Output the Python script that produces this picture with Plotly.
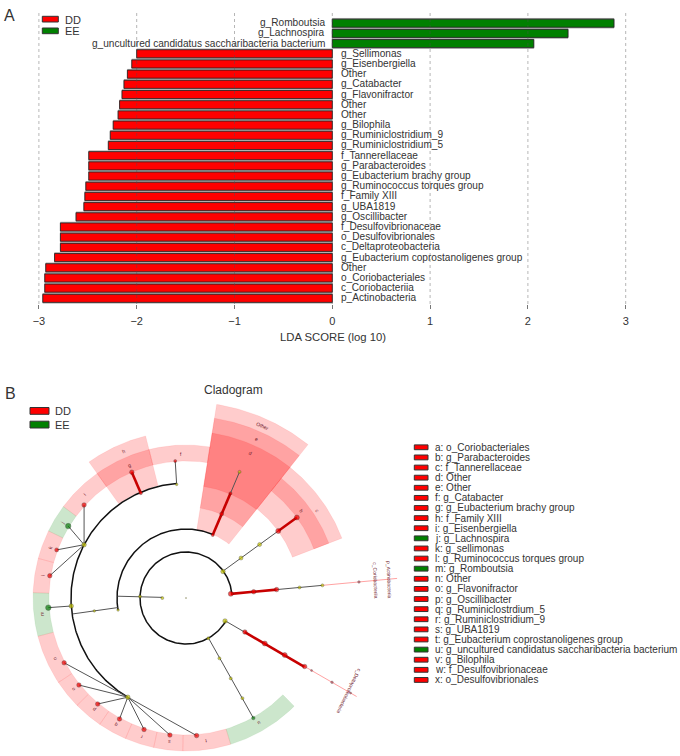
import numpy as np
import plotly.graph_objects as go

W, H = 680, 756
FONT = "Liberation Sans"
TXT = "#333333"
RED, GREEN = "#ff0000", "#008000"

# ---------- Panel A data ----------
lda_labels = ["g_Romboutsia", "g_Lachnospira", "g_uncultured candidatus saccharibacteria bacterium",
              "g_Sellimonas", "g_Eisenbergiella", "Other", "g_Catabacter", "g_Flavonifractor", "Other", "Other",
              "g_Bilophila", "g_Ruminiclostridium_9", "g_Ruminiclostridium_5", "f_Tannerellaceae",
              "g_Parabacteroides", "g_Eubacterium brachy group", "g_Ruminococcus torques group", "f_Family XIII",
              "g_UBA1819", "g_Oscillibacter", "f_Desulfovibrionaceae", "o_Desulfovibrionales",
              "c_Deltaproteobacteria", "g_Eubacterium coprostanoligenes group", "Other", "o_Coriobacteriales",
              "c_Coriobacteriia", "p_Actinobacteria"]
lda_values = [2.88, 2.41, 2.06, -2.00, -2.05, -2.095, -2.13, -2.15, -2.175, -2.19, -2.24, -2.27, -2.29, -2.49,
              -2.49, -2.49, -2.52, -2.53, -2.54, -2.62, -2.78, -2.78, -2.78, -2.84, -2.93, -2.94, -2.94, -2.96]
x_ticks = [-3, -2, -1, 0, 1, 2, 3]

# ---------- Panel B data (angle in degrees, radius) ----------
# wedge: start angle, end angle, inner radius, outer radius, group
wedge_start = [81, 104, 104, 125.5, 143.3, 154, 165, 178, 194.5, 213.5, 224.6, 235.7, 246.7, 257.8, 268.8, -73,
               21, 21, 51.5, 51.5, 51.5]
wedge_end = [104, 125.5, 125.5, 143.3, 154, 165, 178, 194.5, 213.5, 224.6, 235.7, 246.7, 257.8, 268.8, 287, -45,
             51.5, 51.5, 81, 81, 81]
wedge_inner = [137, 137, 116, 137, 137, 137, 137, 137, 137, 137, 137, 137, 137, 137, 137, 137,
               114, 137, 69, 91, 113]
wedge_outer = [153, 153, 167, 153, 153, 153, 153, 153, 153, 153, 153, 153, 153, 153, 153, 153,
               167, 153, 196, 182, 167]
wedge_group = ["DD", "DD", "DD", "DD", "EE", "DD", "DD", "EE", "DD", "DD", "DD", "DD", "DD", "DD", "DD", "EE",
               "DD", "DD", "DD", "DD", "DD"]
# arcs: radius, start angle, end angle
arc_radius = [115, 69, 46]
arc_start = [94.7, 67, 5]
arc_end = [239.6, 190, 330]
# branches: angle0, radius0, angle1, radius1, kind
seg_t0 = [178.5, 188, 184, 94.7, 152.4, 152.4, 152.4, 152.4, 239.6, 239.6, 239.6, 239.6, 239.6, 239.6, 239.6,
          36, 36, 67, 67, 113.3, 5.3, 5.3, 5.3, -30.2, -30.2, -30, -60.7]
seg_r0 = [23.7, 69, 115, 114, 115, 115, 115, 115, 115, 115, 115, 115, 115, 115, 115,
          46, 114, 68.4, 113.8, 114.4, 45, 91, 137, 45, 68, 137, 46]
seg_t1 = [178.5, 188, 184, 94.5, 137.6, 148.6, 159.6, 170.7, 208, 219.1, 230.2, 241.2, 252.3, 263.3, 274.4,
          36, 36, 67, 67, 113.3, 5.3, 5.3, 5.3, -30.2, -30.2, -30, -60.7]
seg_r1 = [68.4, 114.5, 138, 137.4, 138, 138, 138, 138, 138, 138, 138, 138, 138, 138, 138,
          114, 137, 113.8, 137, 137, 91, 137, 212, 68, 137, 197, 137.6]
seg_kind = ["g", "g", "g", "g", "g", "g", "g", "g", "g", "g", "g", "g", "g", "g", "g",
            "g", "r", "r", "g", "r", "r", "g", "p", "g", "r", "p", "g"]
# nodes: angle, radius, size, kind
node_t = [0, 180, 178, 190, 188, 184, 152.4, 239.6, 94.7, 67, 36, 36, 35.6, -30.5, -61, -61, -60.9, -60.6, 5.3, 5.3,
          113.3, 113.3, 94.5, 137.6, 159.6, 170.7, 208, 219.1, 230.2, 241.2, 252.3, 263.3, 274.4,
          36, 36, 67, 67, 67, 5.3, 5.3, 5.3, -30, -30, -30, -30,
          148.6, 184, -60.7, 5.3, -30, -30, -30]
node_r = [0, 23.7, 46, 69, 92.6, 115, 115, 115, 114, 137, 68, 91, 45.5, 45.3, 46, 69, 92, 115, 114, 137,
          114.4, 137, 137.4, 138, 138, 138, 138, 138, 138, 138, 138, 138, 138,
          114, 137, 68.4, 91.3, 113.8, 45, 68, 91, 68, 91, 114, 137,
          138, 138, 137.6, 173.7, 145, 168.6, 190]
node_size = [1, 3, 3, 2.5, 2.5, 4.5, 4.5, 4.5, 2.5, 3, 4, 4, 4.5, 4.5, 3, 3, 3, 3, 3, 3,
             3.5, 4.5, 3, 4.5, 4, 4.5, 4.5, 4.5, 4.5, 4.5, 4.5, 4.5, 4.5,
             5, 5, 3, 4, 3, 5, 4.5, 4.5, 4.5, 5, 5, 4.5,
             5.5, 5.5, 3.5, 2.5, 2, 2.5, 2]
node_kind = ["y"] * 20 + ["r"] * 25 + ["e"] * 3 + ["p"] * 4
# text on the rings: letter, angle, radius
ring_text = ["f", "h", "g", "i", "j", "k", "l", "m", "n", "o", "p", "q", "r", "s", "t", "u", "c", "b", "Other", "e", "d"]
ring_t = [92, 113, 113, 134.2, 148.8, 159.7, 171.2, 186.4, 204.8, 219, 230.4, 241.2, 252.1, 263.4, 277.9, -59.6,
          33.5, 37, 66, 66, 66]
ring_r = [144, 160, 144, 145, 145, 145, 145.5, 145, 145, 145, 145, 145, 145.5, 145.5, 145, 145, 158, 145, 188, 173.7, 159]

legend_labels = ["a: o_Coriobacteriales", "b: g_Parabacteroides", "c: f_Tannerellaceae", "d: Other", "e: Other",
                 "f: g_Catabacter", "g: g_Eubacterium brachy group", "h: f_Family XIII", "i: g_Eisenbergiella",
                 "j: g_Lachnospira", "k: g_sellimonas", "l: g_Ruminococcus torques group", "m: g_Romboutsia",
                 "n: Other", "o: g_Flavonifractor", "p: g_Oscillibacter", "q: g_Ruminiclostrdium_5",
                 "r: g_Ruminiclostridium_9", "s: g_UBA1819", "t: g_Eubacterium coprostanoligenes group",
                 "u: g_uncultured candidatus saccharibacteria bacterium", "v: g_Bilophila",
                 "w: f_Desulfovibrionaceae", "x: o_Desulfovibrionales"]
legend_groups = ["DD"] * 9 + ["EE"] + ["DD"] * 2 + ["EE"] + ["DD"] * 7 + ["EE"] + ["DD"] * 3


def px(x):
    return x / W


def py(y):
    return 1 - y / H


def xy(t, r):
    a = np.radians(t)
    return r * np.cos(a), r * np.sin(a)


fig = go.Figure()

# ---------- Panel A ----------
ypos = list(range(len(lda_labels)))
bar_colors = [GREEN if v > 0 else RED for v in lda_values]
fig.add_trace(go.Bar(x=lda_values, y=ypos, orientation="h", width=0.93, marker=dict(color="#a8a8a8", line=dict(color="#a8a8a8", width=1)),
                     hoverinfo="skip", showlegend=False, xaxis="x", yaxis="y"))
fig.add_trace(go.Bar(x=lda_values, y=ypos, orientation="h", width=0.79, marker=dict(color=bar_colors, line=dict(color="#222222", width=0.8)),
                     text=lda_labels, hovertemplate="%{text}: %{x}<extra></extra>", textposition="none",
                     showlegend=False, xaxis="x", yaxis="y"))

annotations = []
for i, (lab, v) in enumerate(zip(lda_labels, lda_values)):
    annotations.append(dict(x=0, y=i, xref="x", yref="y", text=lab, showarrow=False,
                            xanchor="right" if v > 0 else "left", xshift=-5.5 if v > 0 else 7,
                            yshift=0.5, font=dict(family=FONT, size=10.1, color=TXT)))

shapes = []
for t in x_ticks:
    shapes.append(dict(type="line", xref="x", yref="y domain", x0=t, x1=t, y0=0, y1=1, layer="above",
                       line=dict(color="rgba(80,80,80,0.6)", width=0.7, dash="dot")))


def swatch(x0, x1, y0, y1, group):
    col = RED if group == "DD" else GREEN
    return dict(type="rect", xref="paper", yref="paper", x0=px(x0), x1=px(x1), y0=py(y0), y1=py(y1),
                fillcolor=col, line=dict(color="#333333", width=1))


def paper_text(x, y, s, size, anchor="left"):
    return dict(x=px(x), y=py(y), xref="paper", yref="paper", text=s, showarrow=False, xanchor=anchor,
                yanchor="middle", font=dict(family=FONT, size=size, color=TXT))


shapes += [swatch(42.3, 58.3, 16.3, 22, "DD"), swatch(42.3, 58.3, 28, 33.7, "EE"),
           swatch(30, 49, 407.5, 414.3, "DD"), swatch(30, 49, 421.2, 428, "EE")]
annotations += [paper_text(62.5, 19.5, "DD", 11), paper_text(62.5, 31.5, "EE", 11),
                paper_text(52.5, 411, "DD", 11), paper_text(52.5, 425, "EE", 11),
                paper_text(1.5, 15, "A", 16), paper_text(2.5, 393, "B", 16),
                paper_text(233.5, 390, "Cladogram", 12, "center"),
                paper_text(333, 337, "LDA SCORE (log 10)", 11.3, "center")]

# ---------- Panel B: wedges ----------
for a0, a1, r0, r1, g in zip(wedge_start, wedge_end, wedge_inner, wedge_outer, wedge_group):
    th = np.linspace(a0, a1, 40)
    xo, yo = xy(th, r1)
    xi, yi = xy(th[::-1], r0)
    fx = np.concatenate([xo, xi, xo[:1]])
    fy = np.concatenate([yo, yi, yo[:1]])
    fill = "rgba(255,0,0,0.2)" if g == "DD" else "rgba(0,128,0,0.2)"
    edge = "rgba(255,0,0,0.12)" if g == "DD" else "rgba(0,128,0,0.1)"
    fig.add_trace(go.Scatter(x=fx, y=fy, mode="lines", fill="toself", fillcolor=fill, line=dict(color=edge, width=0.6),
                             hoverinfo="skip", showlegend=False, xaxis="x2", yaxis="y2"))

# arcs
for r, a0, a1 in zip(arc_radius, arc_start, arc_end):
    ax, ay = xy(np.linspace(a0, a1, 200), r)
    fig.add_trace(go.Scatter(x=ax, y=ay, mode="lines", line=dict(color="#111111", width=1.5), hoverinfo="skip",
                             showlegend=False, xaxis="x2", yaxis="y2"))

# branches
seg_style = {"g": dict(color="#555555", width=1.0), "r": dict(color="#c80000", width=2.6),
             "p": dict(color="rgba(255,100,100,0.6)", width=1.0)}
for t0, r0, t1, r1, k in zip(seg_t0, seg_r0, seg_t1, seg_r1, seg_kind):
    x0, y0 = xy(t0, r0)
    x1, y1 = xy(t1, r1)
    fig.add_trace(go.Scatter(x=[x0, x1], y=[y0, y1], mode="lines", line=seg_style[k], hoverinfo="skip",
                             showlegend=False, xaxis="x2", yaxis="y2"))

# nodes
nx, ny = xy(np.array(node_t, float), np.array(node_r, float))
node_color = {"y": "#c4c400", "r": "#ee0000", "e": "#0a7a0a", "p": "rgba(170,50,70,0.8)"}
fig.add_trace(go.Scatter(x=nx, y=ny, mode="markers", hoverinfo="skip", showlegend=False, xaxis="x2", yaxis="y2",
                         marker=dict(size=node_size, color=[node_color[k] for k in node_kind],
                                     line=dict(color="rgba(30,30,30,0.8)", width=0.5))))

# ring letters
rx, ry = xy(np.array(ring_t, float), np.array(ring_r, float))
for s, t, x0, y0 in zip(ring_text, ring_t, rx, ry):
    ang = 90 - t
    ang = (ang + 180) % 360 - 180
    annotations.append(dict(x=x0, y=y0, xref="x2", yref="y2", text=s, showarrow=False, textangle=ang,
                            font=dict(family=FONT, size=5, color="#70202c")))

# long clade names
clade_names = ["p_Actinobacteria", "c_Coriobacteriia", "c_Deltaproteobacteria"]
clade_t = [5.3, 5.3, -29.9]
clade_r = [204, 190, 188]
clade_rot = [88, 88, 116]
cx_, cy_ = xy(np.array(clade_t), np.array(clade_r))
for s, x0, y0, rot in zip(clade_names, cx_, cy_, clade_rot):
    annotations.append(dict(x=x0, y=y0, xref="x2", yref="y2", text=s, showarrow=False, textangle=rot,
                            font=dict(family=FONT, size=5, color="#70202c")))

# ---------- Panel B legend ----------
for i, (lab, g) in enumerate(zip(legend_labels, legend_groups)):
    yc = 447.3 + i * 10.115
    shapes.append(swatch(414.3, 428, yc - 2.4, yc + 2.4, g))
    annotations.append(paper_text(432.5, yc, lab, 10))

fig.update_layout(
    width=W, height=H, margin=dict(l=0, r=0, t=0, b=0), paper_bgcolor="white", plot_bgcolor="white",
    barmode="overlay", showlegend=False, shapes=shapes, annotations=annotations,
    font=dict(family=FONT, color=TXT),
    xaxis=dict(domain=[0, 1], range=[(0 - 332.3) / 97.8, (W - 332.3) / 97.8], tickvals=x_ticks,
               ticktext=["\u22123", "\u22122", "\u22121", "0", "1", "2", "3"], ticks="outside", ticklen=4,
               tickcolor="#777777", tickwidth=0.8, showgrid=False, zeroline=False, showline=False,
               ticklabelstandoff=3, tickfont=dict(family=FONT, size=11, color=TXT), anchor="y"),
    yaxis=dict(domain=[py(304), py(13)], range=[(304 - 23.2) / 10.19, (13 - 23.2) / 10.19], visible=False, anchor="x"),
    xaxis2=dict(domain=[0, 1], range=[-186, W - 186], visible=False, anchor="y2"),
    yaxis2=dict(domain=[0, py(370)], range=[598 - 756, 598 - 370], visible=False, anchor="x2"),
)
fig.write_html("out.html", config={"displayModeBar": False},
               post_script="document.body.style.margin='0';document.documentElement.style.overflow='hidden';")
